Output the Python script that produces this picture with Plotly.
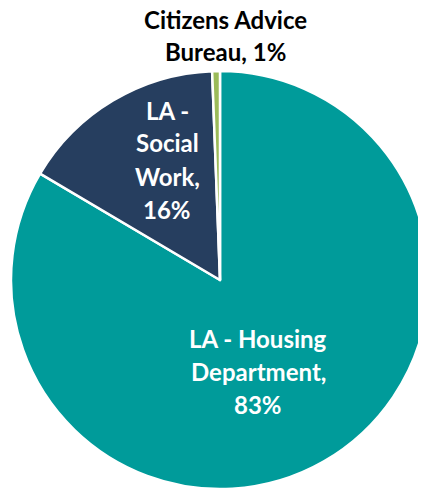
import plotly.graph_objects as go

# ---- data ----
categories = ["LA - Housing Department", "LA - Social Work", "Citizens Advice Bureau"]
values = [83.5, 15.9, 0.6]
label_lines = [
    ["LA - Housing", "Department,", "83%"],
    ["LA -", "Social", "Work,", "16%"],
    ["Citizens Advice", "Bureau, 1%"],
]
colors = ["#009B9A", "#263E5F", "#9BBB59"]

W, H = 426, 489
OFF = 8  # default page body margin shifts the figure by 8px

# pie circle on screen: centre (220, 280), radius 209
cx, cy, r = 220 - OFF, 280 - OFF, 209

fig = go.Figure(go.Pie(
    labels=categories,
    values=values,
    sort=False,
    direction="clockwise",
    rotation=0,
    marker=dict(colors=colors, line=dict(color="white", width=2.5)),
    textinfo="none",
    hoverinfo="label+percent",
    domain=dict(x=[(cx - r) / W, (cx + r) / W], y=[1 - (cy + r) / H, 1 - (cy - r) / H]),
    showlegend=False,
))

# label placements (screen pixel centres of each text line)
placements = [
    dict(x=258, y0=338, dy=33, color="white"),
    dict(x=167, y0=110, dy=33, color="white"),
    dict(x=225, y0=20, dy=32, color="black"),
]
annotations = []
for lines, p in zip(label_lines, placements):
    for i, line in enumerate(lines):
        annotations.append(dict(
            x=(p["x"] - OFF) / W, y=1 - (p["y0"] + i * p["dy"] - OFF) / H,
            xref="paper", yref="paper", xanchor="center", yanchor="middle",
            text=f"<b>{line}</b>", showarrow=False,
            font=dict(family="Lato", size=24, color=p["color"]),
        ))

fig.update_layout(
    width=W, height=H,
    margin=dict(l=0, r=0, t=0, b=0),
    paper_bgcolor="white",
    plot_bgcolor="white",
    annotations=annotations,
)

fig.write_html("out.html")
